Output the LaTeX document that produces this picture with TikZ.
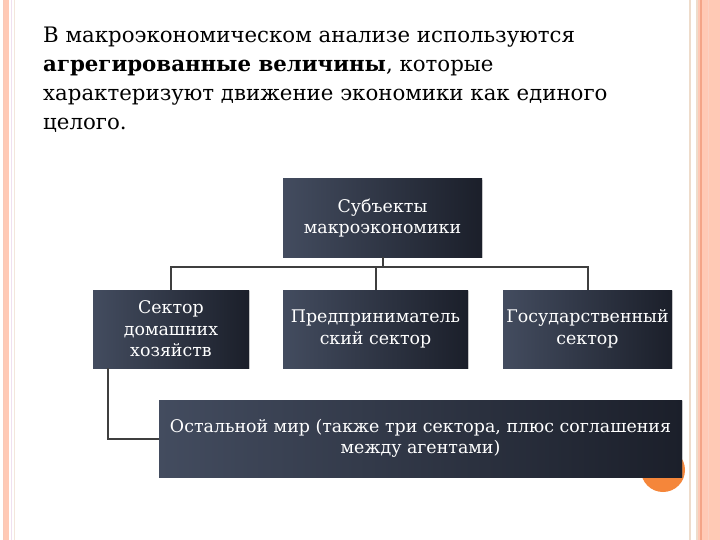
\documentclass[tikz,border=0pt]{standalone}
\usepackage{fontspec}
\setmainfont{DejaVu Serif}
\usetikzlibrary{shadows}
\definecolor{boxL}{HTML}{434C5F}
\definecolor{boxR}{HTML}{1B1F2A}
\definecolor{connC}{HTML}{3F3F3F}
\definecolor{salmon}{HTML}{FFC9B5}
\definecolor{salmonD}{HTML}{F4A487}
\definecolor{beigeL}{HTML}{EEDCCB}
\definecolor{orangeC}{HTML}{F5863A}
\tikzset{
  titleline/.style={anchor=base west, inner sep=0pt, font=\fontsize{21.3}{29}\selectfont},
  darkbox/.style={rectangle, left color=boxL, right color=boxR, draw=none,
    text=white, align=center, inner sep=1pt,
    font=\fontsize{17.4}{21.5}\selectfont,
    drop shadow={shadow xshift=0.6pt, shadow yshift=-1.2pt, opacity=0.25}},
  conn/.style={draw=connC, line width=2pt}
}
\begin{document}
\begin{tikzpicture}[x=1pt,y=-1pt]
\useasboundingbox (0,0) rectangle (720,540);
\fill[white] (0,0) rectangle (720,540);
% left border stripes
\fill[salmon] (3,0) rectangle (9,540);
\fill[salmonD!60] (3,0) rectangle (4,540);
\draw[color=violet!12, line width=0.8pt] (11,0) -- (11,540);
\draw[color=beigeL!70, line width=0.8pt] (14,0) -- (14,540);
% right border stripes
\draw[color=beigeL, line width=1.5pt] (690,0) -- (690,540);
\fill[salmon] (697,0) rectangle (720,540);
\draw[color=beigeL, line width=1.5pt] (697,0) -- (697,540);
\draw[color=salmonD, line width=1.6pt] (701,0) -- (701,540);
\draw[color=salmonD!50, line width=1pt] (708,0) -- (708,540);
% title
\node[titleline] (t1) at (43,43) {В макроэкономическом анализе используются};
\node[titleline] (t2) at (43,72) {\textbf{агрегированные величины}, которые};
\node[titleline] (t3) at (43,101) {характеризуют движение экономики как единого};
\node[titleline] (t4) at (43,130) {целого.};
% orange circle (slide number placeholder)
\fill[orangeC] (663,470) circle (22);
% boxes
\node[darkbox, minimum width=199pt, minimum height=78pt] (top) at (382.5,218) {Субъекты\\макроэкономики};
\node[darkbox, minimum width=156pt, minimum height=78pt] (c1) at (171,329) {Сектор\\домашних\\хозяйств};
\node[darkbox, minimum width=185pt, minimum height=78pt] (c2) at (375.5,329) {Предприниматель\\ский сектор};
\node[darkbox, minimum width=169pt, minimum height=78pt] (c3) at (587.5,329) {Государственный\\сектор};
\node[darkbox, minimum width=523pt, minimum height=77pt] (rest) at (420.5,438.5) {Остальной мир (также три сектора, плюс соглашения\\между агентами)};
% connectors
\draw[conn] (top.south) -- ++(0,10) coordinate (busC);
\draw[conn] (busC) -| (c1.north);
\draw[conn] (busC) -| (c2.north);
\draw[conn] (busC) -| (c3.north);
\draw[conn] (c1.south west) ++(15,0) coordinate (lc) |- (rest.west);
\end{tikzpicture}
\end{document}
